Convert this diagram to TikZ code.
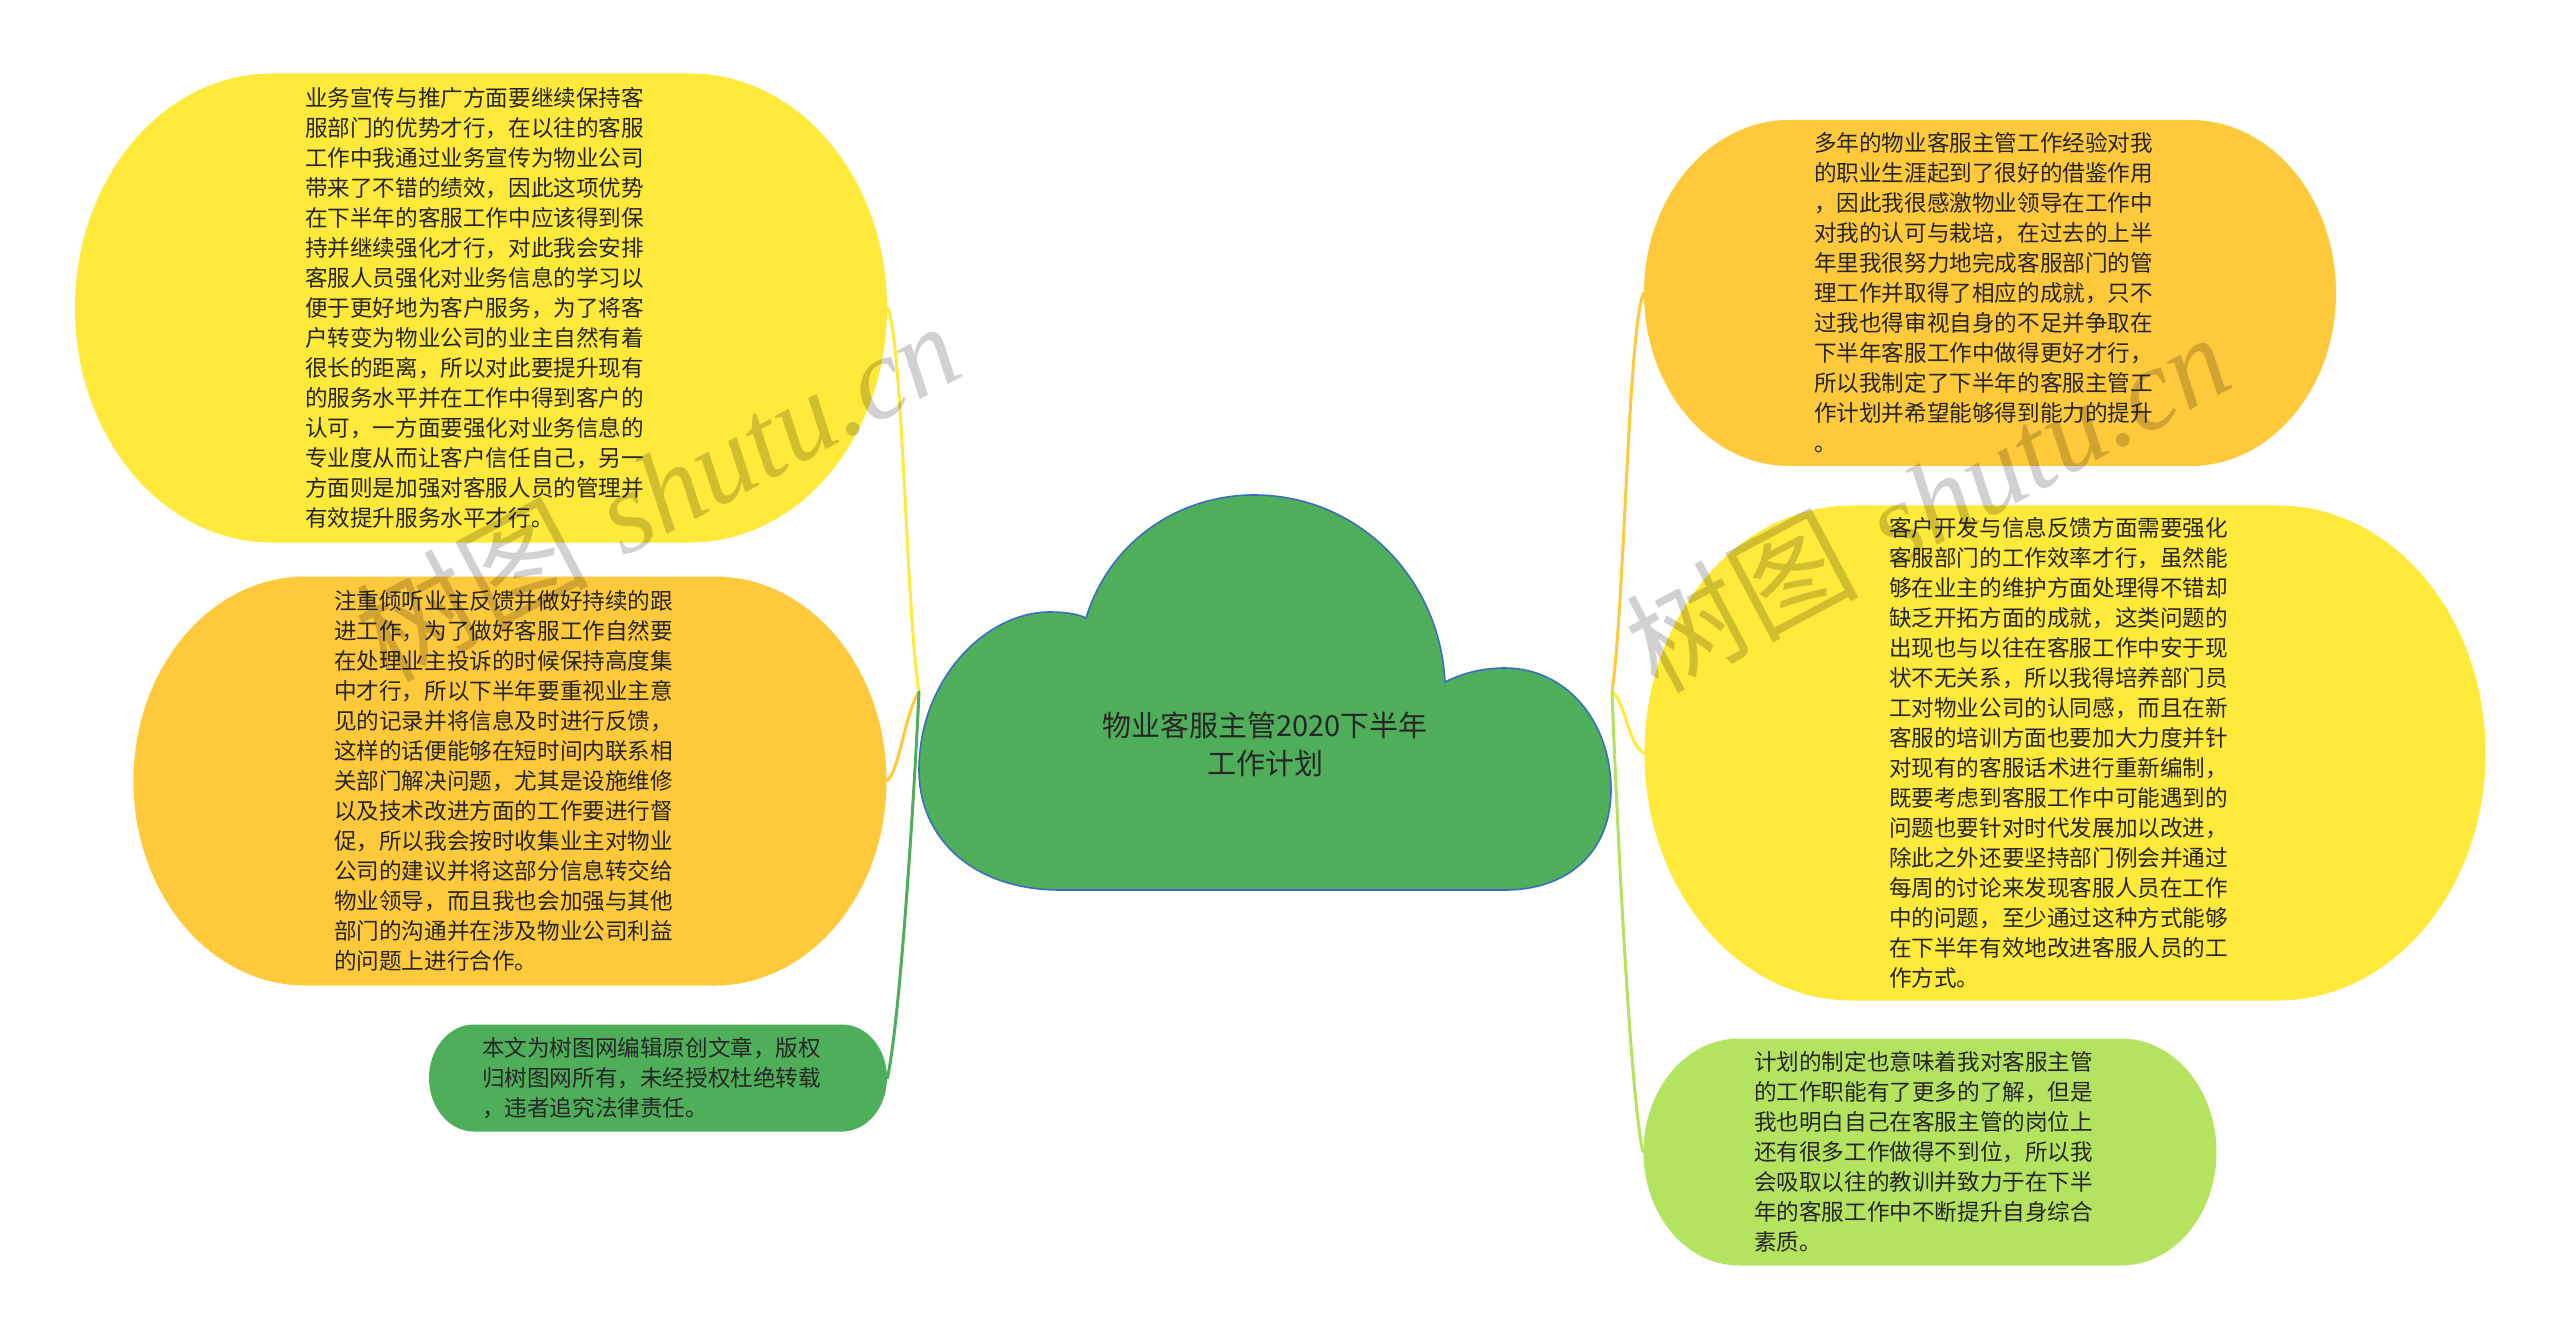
\documentclass[tikz,border=0pt]{standalone}
\usepackage{fontspec}
\newfontfamily\cjk{Noto Sans CJK SC}
\newfontfamily\wmserif{Liberation Serif}
\definecolor{cyellow}{HTML}{FFE93A}
\definecolor{corange}{HTML}{FFC93C}
\definecolor{cgreen}{HTML}{4FAE5A}
\definecolor{clgreen}{HTML}{B4E35F}
\definecolor{cblue}{HTML}{3A6FC0}
\definecolor{tdark}{HTML}{262626}
\tikzset{
  txt/.style={font=\cjk\fontsize{11.3pt}{15pt}\selectfont, text width=171pt, align=left, inner sep=0pt, text=tdark},
  roottxt/.style={font=\cjk\fontsize{14.5pt}{19pt}\selectfont, align=center, inner sep=0pt, text=tdark},
  shapebox/.style={draw=none, inner sep=0pt},
  link/.style={line width=1.5pt, line cap=round},
  wmark/.style={rotate=28, text=black, opacity=0.18, inner sep=0pt, font=\fontsize{58pt}{60pt}\selectfont}
}
\newcommand\blobnode[7]{%
  \pgfmathsetmacro\bhw{#5/2}\pgfmathsetmacro\bhh{#6/2}\pgfmathsetmacro\brx{0.42*#6}%
  \pgfmathsetmacro\bk{0.5523}%
  \fill[#2] ({#3-\bhw+\brx},{#4-\bhh}) -- ({#3+\bhw-\brx},{#4-\bhh})
    .. controls ({#3+\bhw-\brx+\bk*\brx},{#4-\bhh}) and ({#3+\bhw},{#4-\bk*\bhh}) .. ({#3+\bhw},{#4})
    .. controls ({#3+\bhw},{#4+\bk*\bhh}) and ({#3+\bhw-\brx+\bk*\brx},{#4+\bhh}) .. ({#3+\bhw-\brx},{#4+\bhh})
    -- ({#3-\bhw+\brx},{#4+\bhh})
    .. controls ({#3-\bhw+\brx-\bk*\brx},{#4+\bhh}) and ({#3-\bhw},{#4+\bk*\bhh}) .. ({#3-\bhw},{#4})
    .. controls ({#3-\bhw},{#4-\bk*\bhh}) and ({#3-\bhw+\brx-\bk*\brx},{#4-\bhh}) .. ({#3-\bhw+\brx},{#4-\bhh}) -- cycle;
  \node[shapebox, minimum width={#5*0.5pt}, minimum height={#6*0.5pt}] (#1) at (#3,#4) {};
  \node[txt] (#1t) at ({#3-5},#4) {#7};
}
\begin{document}
\begin{tikzpicture}[x=0.5pt, y=-0.5pt]
\useasboundingbox (0,0) rectangle (2560,1342);
\fill[white] (0,0) rectangle (2560,1342);

% central cloud
\filldraw[fill=cgreen, draw=cblue, line width=0.8pt]
  (1060,890) .. controls (975,890) and (919,840) .. (919,770)
  .. controls (919,680) and (985,612) .. (1050,612)
  .. controls (1065,612) and (1078,614) .. (1086,618)
  .. controls (1110,540) and (1180,495) .. (1254,495)
  .. controls (1360,495) and (1440,580) .. (1445,682)
  .. controls (1465,672) and (1485,668) .. (1505,668)
  .. controls (1565,668) and (1611,720) .. (1611,790)
  .. controls (1611,850) and (1570,890) .. (1505,890) -- cycle;
\node[roottxt] (root) at (1265,744) {物业客服主管2020下半年\\工作计划};
\coordinate (lroot) at (919,692);
\coordinate (rroot) at (1612,692);

% left branches
\blobnode{L1}{cyellow}{481}{308}{812}{469}{业务宣传与推广方面要继续保持客\\服部门的优势才行，在以往的客服\\工作中我通过业务宣传为物业公司\\带来了不错的绩效，因此这项优势\\在下半年的客服工作中应该得到保\\持并继续强化才行，对此我会安排\\客服人员强化对业务信息的学习以\\便于更好地为客户服务，为了将客\\户转变为物业公司的业主自然有着\\很长的距离，所以对此要提升现有\\的服务水平并在工作中得到客户的\\认可，一方面要强化对业务信息的\\专业度从而让客户信任自己，另一\\方面则是加强对客服人员的管理并\\有效提升服务水平才行。}
\blobnode{L2}{corange}{510}{781}{753}{409}{注重倾听业主反馈并做好持续的跟\\进工作，为了做好客服工作自然要\\在处理业主投诉的时候保持高度集\\中才行，所以下半年要重视业主意\\见的记录并将信息及时进行反馈，\\这样的话便能够在短时间内联系相\\关部门解决问题，尤其是设施维修\\以及技术改进方面的工作要进行督\\促，所以我会按时收集业主对物业\\公司的建议并将这部分信息转交给\\物业领导，而且我也会加强与其他\\部门的沟通并在涉及物业公司利益\\的问题上进行合作。}
\blobnode{L3}{cgreen}{658}{1078}{458}{107}{本文为树图网编辑原创文章，版权\\归树图网所有，未经授权杜绝转载\\，违者追究法律责任。}

% right branches
\blobnode{R1}{corange}{1990}{293}{692}{346}{多年的物业客服主管工作经验对我\\的职业生涯起到了很好的借鉴作用\\，因此我很感激物业领导在工作中\\对我的认可与栽培，在过去的上半\\年里我很努力地完成客服部门的管\\理工作并取得了相应的成就，只不\\过我也得审视自身的不足并争取在\\下半年客服工作中做得更好才行，\\所以我制定了下半年的客服主管工\\作计划并希望能够得到能力的提升\\。}
\blobnode{R2}{cyellow}{2065}{753}{841}{495}{客户开发与信息反馈方面需要强化\\客服部门的工作效率才行，虽然能\\够在业主的维护方面处理得不错却\\缺乏开拓方面的成就，这类问题的\\出现也与以往在客服工作中安于现\\状不无关系，所以我得培养部门员\\工对物业公司的认同感，而且在新\\客服的培训方面也要加大力度并针\\对现有的客服话术进行重新编制，\\既要考虑到客服工作中可能遇到的\\问题也要针对时代发展加以改进，\\除此之外还要坚持部门例会并通过\\每周的讨论来发现客服人员在工作\\中的问题，至少通过这种方式能够\\在下半年有效地改进客服人员的工\\作方式。}
\blobnode{R3}{clgreen}{1930}{1152}{573}{227}{计划的制定也意味着我对客服主管\\的工作职能有了更多的了解，但是\\我也明白自己在客服主管的岗位上\\还有很多工作做得不到位，所以我\\会吸取以往的教训并致力于在下半\\年的客服工作中不断提升自身综合\\素质。}

% connectors
\draw[link, cyellow] (lroot) .. controls (906,610) and (903,340) .. (L1.east);
\draw[link, corange] (lroot) .. controls (905,712) and (900,770) .. (L2.east);
\draw[link, cgreen] (lroot) .. controls (914,800) and (900,1020) .. (L3.east);
\draw[link, corange] (rroot) .. controls (1625,600) and (1628,330) .. (R1.west);
\draw[link, cyellow] (rroot) .. controls (1625,700) and (1628,745) .. (R2.west);
\draw[link, clgreen] (rroot) .. controls (1616,800) and (1630,1100) .. (R3.west);

% watermarks
\node[wmark] (wm1) at (657,490) {{\cjk 树图} {\wmserif\itshape shutu.cn}};
\node[wmark] (wm2) at (1927,501) {{\cjk 树图} {\wmserif\itshape shutu.cn}};
\end{tikzpicture}
\end{document}
